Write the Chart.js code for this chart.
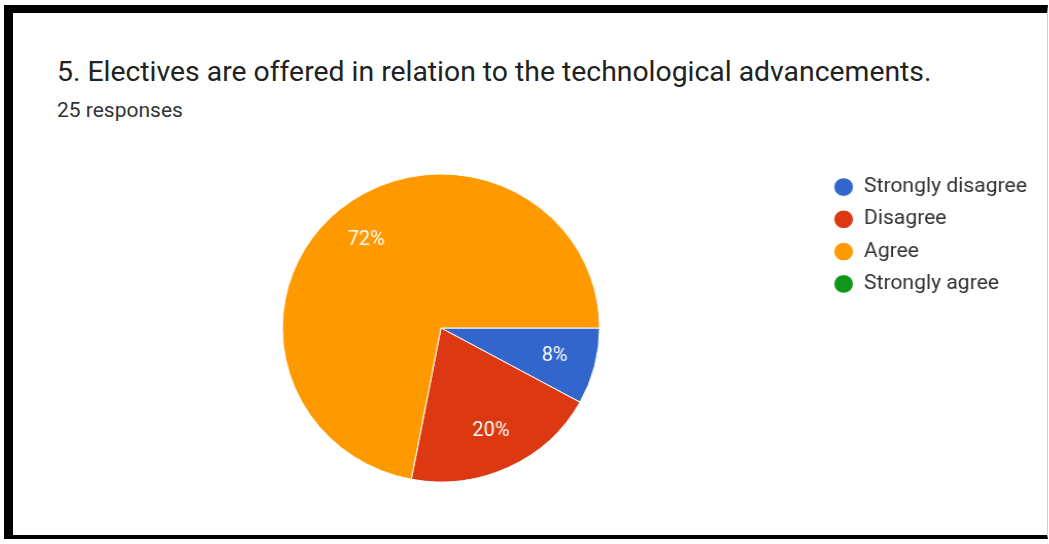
<!DOCTYPE html>
<html>
<head>
<meta charset="utf-8">
<script src="https://cdn.jsdelivr.net/npm/chart.js@4"></script>
<style>
  html, body { margin:0; padding:0; background:#fff; width:1049px; height:544px; overflow:hidden; }
  #frame { position:absolute; left:4px; top:5px; width:1034px; height:522px;
           border-top:8px solid #000; border-left:9px solid #000; border-bottom:4px solid #000;
           border-right:1px solid #d0d0d0; }
  #title { position:absolute; left:57px; top:56px; font-family:Roboto, sans-serif; font-size:27px;
           color:#222; white-space:nowrap; transform:scaleX(1.05); transform-origin:0 0; }
  #sub { position:absolute; left:57px; top:97.5px; font-family:Roboto, sans-serif; font-size:20px;
         color:#333; white-space:nowrap; transform:scaleX(1.05); transform-origin:0 0; }
  #clip { position:absolute; left:0; top:0; width:1049px; height:544px; overflow:hidden; }
  #wrap { position:absolute; left:0; top:0; width:1049px; height:544px;
          transform:scaleX(1.03); transform-origin:0 0; }
</style>
</head>
<body>
<div id="frame"></div>
<div id="title">5. Electives are offered in relation to the technological advancements.</div>
<div id="sub">25 responses</div>
<div id="clip"><div id="wrap"><canvas id="c" width="1049" height="544"></canvas></div></div>
<script>
const categories = ['Strongly disagree', 'Disagree', 'Agree', 'Strongly agree'];
const responseCounts = [2, 5, 18, 0];
const sliceColors = ['#3366cc', '#dc3912', '#ff9900', '#109618'];

const pctLabels = {
  id: 'pctLabels',
  afterDatasetsDraw(chart) {
    const ctx = chart.ctx;
    const meta = chart.getDatasetMeta(0);
    const data = chart.data.datasets[0].data;
    const total = data.reduce((a, b) => a + b, 0);
    ctx.save();
    ctx.fillStyle = '#fdfdf8';
    ctx.font = '19.5px Roboto, sans-serif';
    ctx.textAlign = 'center';
    ctx.textBaseline = 'middle';
    meta.data.forEach((arc, i) => {
      if (!data[i]) return;
      const p = arc.getProps(['x','y','startAngle','endAngle','outerRadius'], true);
      const mid = (p.startAngle + p.endAngle) / 2;
      const r = p.outerRadius * 0.74;
      const pct = Math.round(data[i] / total * 1000) / 10;
      ctx.fillText(pct + '%', p.x + Math.cos(mid) * r, p.y + Math.sin(mid) * r);
    });
    ctx.restore();
  }
};

new Chart(document.getElementById('c'), {
  type: 'pie',
  data: {
    labels: categories,
    datasets: [{
      data: responseCounts,
      backgroundColor: sliceColors,
      borderColor: '#ffffff',
      borderWidth: 1,
      radius: 154
    }]
  },
  options: {
    responsive: false,
    animation: false,
    rotation: 90,
    layout: { padding: { left: 58.5, right: 42, top: 165, bottom: 53 } },
    plugins: {
      tooltip: { enabled: false },
      legend: {
        position: 'right',
        align: 'start',
        labels: {
          usePointStyle: true,
          pointStyle: 'circle',
          boxHeight: 13.2,
          pointStyleWidth: 19,
          padding: 11.8,
          color: '#333',
          font: { family: 'Roboto, sans-serif', size: 20.5 }
        }
      }
    }
  },
  plugins: [pctLabels]
});
</script>
</body>
</html>
